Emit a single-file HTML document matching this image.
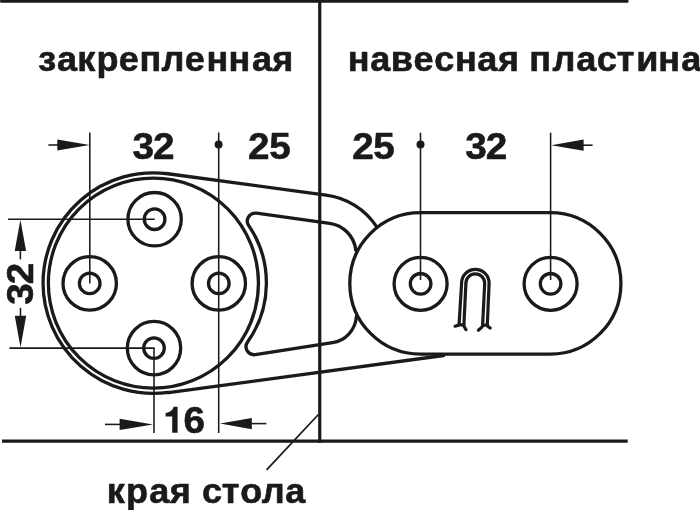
<!DOCTYPE html>
<html lang="ru">
<head>
<meta charset="utf-8">
<title>закрепленная / навесная пластина</title>
<style>
html,body{margin:0;padding:0;background:#fff;}
body{width:700px;height:510px;overflow:hidden;font-family:"Liberation Sans",sans-serif;}
svg{display:block;position:absolute;left:0;top:0;will-change:transform;}
text{font-family:"Liberation Sans",sans-serif;font-weight:bold;fill:#1a1a1a;stroke:#1a1a1a;stroke-width:0.6;stroke-linejoin:round;}
.k{stroke:#1a1a1a;fill:none;stroke-width:3.3;stroke-linecap:round;stroke-linejoin:round;}
.t{stroke:#1a1a1a;fill:none;stroke-width:1.55;stroke-linecap:butt;}
.b{stroke:#1a1a1a;fill:none;stroke-width:3.2;stroke-linecap:butt;}
.f{fill:#1a1a1a;stroke:none;}
</style>
</head>
<body>
<svg width="700" height="510" viewBox="0 0 700 510">
<rect x="0" y="0" width="700" height="510" fill="#ffffff"/>
<!-- labels -->
<text y="71.2" font-size="34.6" x="36.82 54.69 74.2 92.57 114.08 133.79 155.07 177.31 198.08 219.36 241.88 261.4" transform="scale(1.042,1)">закрепленная</text>
<text y="71.2" font-size="34.6" x="333.76 355.25 375.08 396.93 416.76 436.59 458.07 477.9" transform="scale(1.042,1)">навесная</text>
<text y="71.2" font-size="34.6" x="507.85 530.16 553.11 572.74 591.92 610.65 631.65 653.88" transform="scale(1.042,1)">пластина</text>
<text y="502.7" font-size="34.6" x="102.4 121.04 143.13 162.97" transform="scale(1.042,1)">края</text>
<text y="502.7" font-size="34.6" x="193.75 212.84 230.61 251.18 273.65" transform="scale(1.042,1)">стола</text>
<text y="158.8" font-size="36.5" x="124.92 144.3" transform="scale(1.06,1)">32</text>
<text y="158.8" font-size="36.5" x="234.02 253.97" transform="scale(1.06,1)">25</text>
<text y="158.8" font-size="36.5" x="332.23 352.18" transform="scale(1.06,1)">25</text>
<text y="158.8" font-size="36.5" x="438.97 458.36" transform="scale(1.06,1)">32</text>
<text y="433.0" font-size="36.5" x="173.1" transform="scale(1.06,1)">6</text>
<path class="f" d="M177.6 406.7 L173.6 406.7 C172.6 410.2 169.6 412.6 165.6 412.9 L165.6 416.5 L172.2 416.5 L172.2 432.7 L177.6 432.7 Z"/>
<g transform="translate(33.2,304.2) rotate(-90)"><text y="0" font-size="36.5" x="-0.55 18.83" transform="scale(1.06,1)">32</text></g>
<!-- frame lines -->
<line class="b" x1="1.6" y1="1.2" x2="627" y2="1.2" stroke-linecap="round" style="stroke-linecap:round"/>
<line class="b" x1="319.75" y1="0" x2="319.75" y2="442.8"/>
<line class="b" x1="2" y1="441.2" x2="627.7" y2="441.2"/>

<!-- thin dimension / centre lines -->
<line class="t" x1="89.8" y1="132.5" x2="89.8" y2="283.4"/>
<line class="t" x1="218.7" y1="132.5" x2="218.7" y2="433"/>
<line class="t" x1="420.5" y1="132.7" x2="420.5" y2="280"/>
<line class="t" x1="550.6" y1="132.7" x2="550.6" y2="280"/>
<line class="t" x1="154" y1="348" x2="154" y2="433"/>
<line class="t" x1="8" y1="219.2" x2="154.8" y2="219.2"/>
<line class="t" x1="9.4" y1="348.1" x2="154.6" y2="348.1"/>
<line class="t" x1="318.4" y1="414.5" x2="266.6" y2="469.9" style="stroke-width:1.8"/>
<circle class="f" cx="218.6" cy="144.5" r="4"/>
<circle class="f" cx="420.5" cy="144.5" r="4"/>

<!-- arrows -->
<line class="t" x1="48.4" y1="145" x2="60" y2="145"/>
<path class="f" d="M89.6 145 L57.3 139.4 L57.3 150.6 Z"/>
<line class="t" x1="592.6" y1="145.2" x2="580" y2="145.2"/>
<path class="f" d="M551.3 145.2 L583.6 139.6 L583.6 150.8 Z"/>
<line class="t" x1="105" y1="424.4" x2="122" y2="424.4"/>
<path class="f" d="M153 424.4 L119.6 418.8 L119.6 430 Z"/>
<line class="t" x1="266.4" y1="423.6" x2="249" y2="423.6"/>
<path class="f" d="M220 423.6 L251.8 418 L251.8 429.2 Z"/>
<line class="t" x1="20.4" y1="259.4" x2="20.4" y2="248"/>
<path class="f" d="M20.4 219.7 L14.7 250.9 L26.1 250.9 Z"/>
<line class="t" x1="20.5" y1="307.8" x2="20.5" y2="318"/>
<path class="f" d="M20.5 347.5 L14.8 315.8 L26.2 315.8 Z"/>

<!-- fixed round plate -->
<circle class="k" cx="153.4" cy="283.1" r="105.05"/>
<!-- outer silhouette: ring + arm -->
<path class="k" d="M376.6 226.7 A71.3 71.3 0 0 0 326 195.1 L167.89 173.76 A110.3 110.3 0 1 0 168.27 392.39 L168.6 392.6 L443.6 355.5"/>
<!-- cut-out in arm -->
<path class="k" d="M355.8 250.2 A30.5 30.5 0 0 0 329.6 223.3 L256.45 213.2 A8 8 0 0 0 248.74 225.63 A102 102 0 0 1 247.56 342.06 A8 8 0 0 0 255.3 354.6 L332.5 342.7 A28.4 28.4 0 0 0 356.4 316.5"/>

<!-- holes in round plate -->
<g class="k">
<circle cx="154.6" cy="219.2" r="26.7"/><circle cx="154.6" cy="219.2" r="10.3"/>
<circle cx="89.7" cy="283.4" r="26.7"/><circle cx="89.7" cy="283.4" r="10.3"/>
<circle cx="218.8" cy="283.4" r="26.7"/><circle cx="218.8" cy="283.4" r="10.3"/>
<circle cx="154" cy="348.1" r="26.7"/><circle cx="154" cy="348.1" r="10.3"/>
</g>

<!-- hanging plate -->
<path class="k" d="M420.5 212.7 L550.2 212.7 A70.7 70.7 0 0 1 550.2 354.1 L420.5 354.1 A70.7 70.7 0 0 1 420.5 212.7 Z"/>
<g class="k">
<circle cx="420.6" cy="283.8" r="26.5"/><circle cx="420.6" cy="283.8" r="10.3"/>
<circle cx="550.6" cy="283.8" r="26.5"/><circle cx="550.6" cy="283.8" r="10.3"/>
</g>

<!-- key slot -->
<g class="k" style="stroke-width:3.2">
<path d="M455 326.2 L458 325.4 Q459 325 459.1 324 L461.6 283.2 A13.75 13.75 0 0 1 489.1 283.2 L487.3 325 Q487.4 326 488.2 326.6 L490.2 328"/>
<path d="M466 329.6 L464.4 327 Q463.8 326 463.9 325 L465.9 283.2 A9.4 9.4 0 0 1 484.7 283.2 L482.6 325.4 Q482.5 326.6 481.6 327.4 L478.4 330.2"/>
<path d="M459.2 324.6 L463.8 325.2 M482.7 325.4 L487.2 325"/>
</g>

</svg>
</body>
</html>
